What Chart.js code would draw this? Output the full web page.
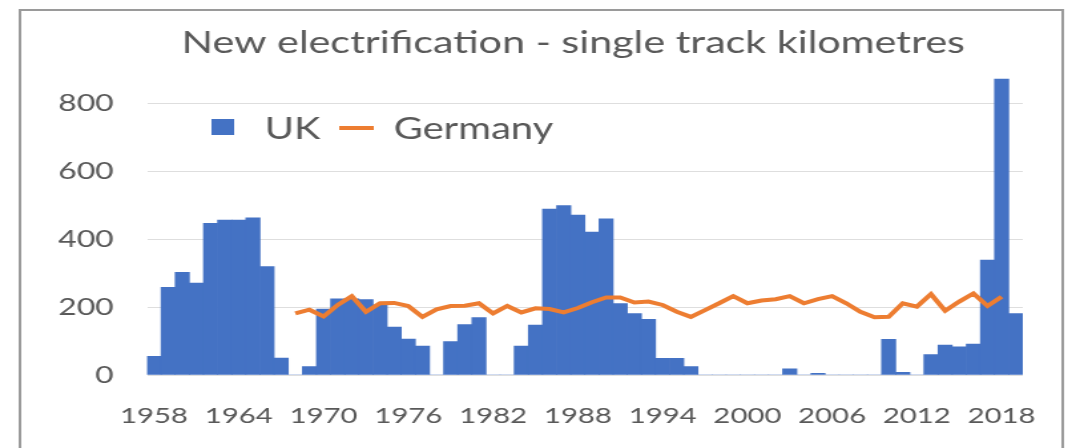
<!DOCTYPE html>
<html>
<head>
<meta charset="utf-8">
<title>New electrification</title>
<script src="https://cdn.jsdelivr.net/npm/chart.js@4.4.1/dist/chart.umd.min.js"></script>
<style>
  html, body { margin: 0; padding: 0; background: #fff; }
  #chart { display: block; }
</style>
</head>
<body>
<!-- drawn narrow and stretched wide, like the published figure -->
<canvas id="chart" width="818" height="448" style="width:1088px;height:448px"></canvas>
<script>
// ---- Data ----
const years = [];
for (let y = 1958; y <= 2019; y++) years.push(String(y));

// single track km electrified per year, UK
const ukKm = [
    55, 258, 302, 270, 446, 456, 456, 462, 319, 50,     // 1958-1967
    0, 25, 194, 224, 224, 222, 206, 141, 106, 85,       // 1968-1977
    0, 98, 148, 169, 0, 0, 85, 147, 488, 498,           // 1978-1987
    470, 420, 459, 210, 181, 164, 49, 49, 25, 0,        // 1988-1997
    0, 0, 0, 0, 0, 18, 0, 5, 0, 0,                      // 1998-2007
    0, 0, 105, 8, 0, 60, 88, 83, 91, 338,               // 2008-2017
    870, 181                                            // 2018-2019
];

// single track km electrified per year, Germany
const germanyKm = [
    null, null, null, null, null, null, null, null, null, null,   // 1958-1967
    181, 192, 172, 206, 232, 186, 211, 212, 203, 171,             // 1968-1977
    193, 203, 204, 211, 181, 203, 184, 196, 194, 184,             // 1978-1987
    197, 214, 228, 228, 213, 216, 206, 186, 171, 191,             // 1988-1997
    211, 232, 211, 219, 223, 232, 211, 223, 232, 211,             // 1998-2007
    186, 170, 171, 211, 201, 238, 189, 216, 240, 203,             // 2008-2017
    230, null                                                     // 2018-2019
];

const yTicks = [0, 200, 400, 600, 800];
const titleText = 'New electrification - single track kilometres';

// ---- Styling ----
const BLUE = '#4472C4';
const ORANGE = '#ED7D31';
const TEXT = '#595959';
const GRID = '#dedede';
const FONT = 'Lato, "Open Sans", sans-serif';

// ---- Frame, title and legend ----
const decorPlugin = {
    id: 'decor',
    beforeDraw(chart) {
        const ctx = chart.ctx;
        ctx.save();
        ctx.fillStyle = '#fff';
        ctx.fillRect(0, 0, chart.width, chart.height);
        ctx.strokeStyle = '#9a9a9a';
        ctx.lineWidth = 2;
        ctx.strokeRect(15, 10, 784, chart.height + 10);
        ctx.restore();
    },
    afterDraw(chart) {
        const ctx = chart.ctx;
        ctx.save();
        ctx.fillStyle = TEXT;
        ctx.textBaseline = 'alphabetic';
        ctx.textAlign = 'center';
        ctx.font = '31px ' + FONT;
        ctx.fillText(titleText, 431, 53);

        // legend entries
        const ds = chart.data.datasets;
        const bar = ds.find(d => d.type === 'bar');
        const line = ds.find(d => d.type === 'line');
        ctx.textAlign = 'left';
        ctx.font = '30px ' + FONT;
        ctx.fillStyle = bar.backgroundColor;
        ctx.fillRect(159, 119, 17, 16);
        ctx.fillStyle = TEXT;
        ctx.fillText(bar.label, 199, 139);

        ctx.strokeStyle = line.borderColor;
        ctx.lineWidth = 4;
        ctx.beginPath();
        ctx.moveTo(255, 128);
        ctx.lineTo(281, 128);
        ctx.stroke();
        ctx.fillText(line.label, 296, 139);
        ctx.restore();
    }
};

// ---- Chart ----
new Chart(document.getElementById('chart'), {
    data: {
        labels: years,
        datasets: [
            {
                type: 'bar',
                label: 'UK',
                data: ukKm,
                backgroundColor: BLUE,
                borderWidth: 0,
                barPercentage: 1,
                categoryPercentage: 1,
                order: 1
            },
            {
                type: 'line',
                label: 'Germany',
                data: germanyKm,
                borderColor: ORANGE,
                backgroundColor: ORANGE,
                borderWidth: 4,
                pointRadius: 0,
                tension: 0,
                order: 0
            }
        ]
    },
    options: {
        responsive: false,
        devicePixelRatio: 1,
        animation: false,
        layout: { padding: { top: 69, right: 49, bottom: 0, left: 0 } },
        plugins: {
            legend: { display: false },
            title: { display: false },
            tooltip: { enabled: false }
        },
        scales: {
            x: {
                grid: { display: false },
                border: { display: false },
                afterFit: s => { s.height = 73; },
                ticks: {
                    autoSkip: false,
                    maxRotation: 0,
                    padding: 20,
                    color: TEXT,
                    font: { family: FONT, size: 22 },
                    callback: (v, i) => (i % 6 === 0 ? years[i] : '')
                }
            },
            y: {
                min: 0,
                max: 900,
                afterFit: s => { s.width = 110.5; },
                afterBuildTicks: s => { s.ticks = yTicks.map(v => ({ value: v })); },
                grid: { color: GRID, lineWidth: 1, drawTicks: false },
                border: { display: false },
                ticks: {
                    padding: 25,
                    color: TEXT,
                    font: { family: FONT, size: 24 }
                }
            }
        }
    },
    plugins: [decorPlugin]
});
</script>
</body>
</html>
